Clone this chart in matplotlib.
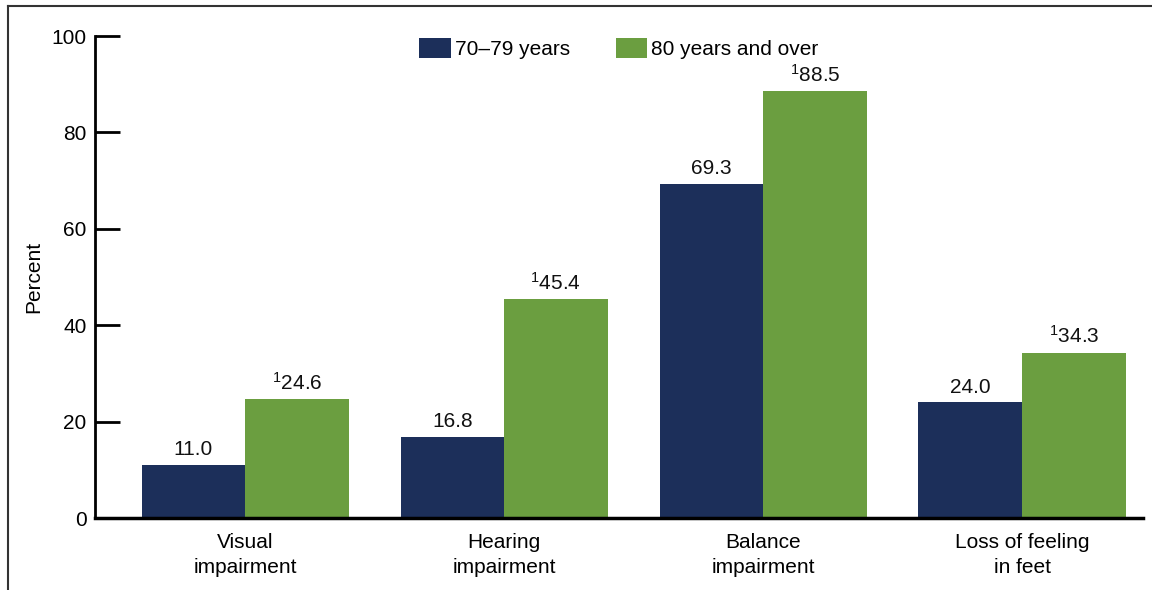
import numpy as np
import matplotlib
matplotlib.use("Agg")
from matplotlib import pyplot as plt
from matplotlib.lines import Line2D

plt.rcParams['font.family'] = ['Liberation Sans', 'DejaVu Sans']
plt.rcParams['mathtext.fontset'] = 'custom'
plt.rcParams['mathtext.rm'] = 'Liberation Sans'
plt.rcParams['mathtext.it'] = 'Liberation Sans'

categories = ['Visual\nimpairment', 'Hearing\nimpairment', 'Balance\nimpairment', 'Loss of feeling\nin feet']
series_names = ['70\u201379 years', '80 years and over']
age_70_79 = [11.0, 16.8, 69.3, 24.0]
age_80_over = [24.6, 45.4, 88.5, 34.3]
footnote_80 = ['1', '1', '1', '1']
y_ticks = [0, 20, 40, 60, 80, 100]

navy = '#1c2f5a'
green = '#6b9e40'
fs = 15

fig = plt.figure(figsize=(11.52, 5.9), dpi=100)
ax = fig.add_axes([95 / 1152, 1 - 518 / 590, (1143 - 95) / 1152, (518 - 36) / 590])

x = np.arange(len(categories))
w = 0.40
ax.bar(x - w / 2, age_70_79, w, color=navy, label=series_names[0])
ax.bar(x + w / 2, age_80_over, w, color=green, label=series_names[1])

for xi, v in zip(x, age_70_79):
    ax.annotate(f'{v:.1f}', (xi - w / 2, v), xytext=(0, 4), textcoords='offset points',
                ha='center', va='bottom', fontsize=fs, color='#111111')
for xi, v, fn in zip(x, age_80_over, footnote_80):
    ax.annotate(r'$^{\mathregular{' + fn + '}}$' + f'{v:.1f}', (xi + w / 2, v), xytext=(0, 4),
                textcoords='offset points', ha='center', va='bottom', fontsize=fs,
                color='#111111')

ax.set_xlim(-0.58, 3.467)
ax.set_ylim(0, 100)
ax.set_yticks(y_ticks)
ax.set_xticks(x)
ax.set_xticklabels(categories, fontsize=fs, linespacing=1.35)
ax.tick_params(axis='x', length=0, pad=11)
ax.tick_params(axis='y', direction='in', length=18, width=2, labelsize=fs, pad=6)
for s in ['top', 'right']:
    ax.spines[s].set_visible(False)
ax.spines['left'].set_linewidth(2)
ax.spines['bottom'].set_linewidth(2.5)
ax.set_ylabel('Percent', fontsize=fs, labelpad=6)

ax.legend(loc='upper center', bbox_to_anchor=(0.5, 1.035), ncol=2, frameon=False,
          fontsize=fs, handlelength=1.5, handleheight=1.1, handletextpad=0.2,
          columnspacing=2.2)

# outer frame lines
fig.add_artist(Line2D([8 / 1152, 8 / 1152], [0, 1 - 6 / 590], transform=fig.transFigure,
                      color='#333333', linewidth=1.5))
fig.add_artist(Line2D([8 / 1152, 1], [1 - 6 / 590, 1 - 6 / 590], transform=fig.transFigure,
                      color='#333333', linewidth=1.5))

fig.savefig('out.png', dpi=100)
plt.close(fig)
